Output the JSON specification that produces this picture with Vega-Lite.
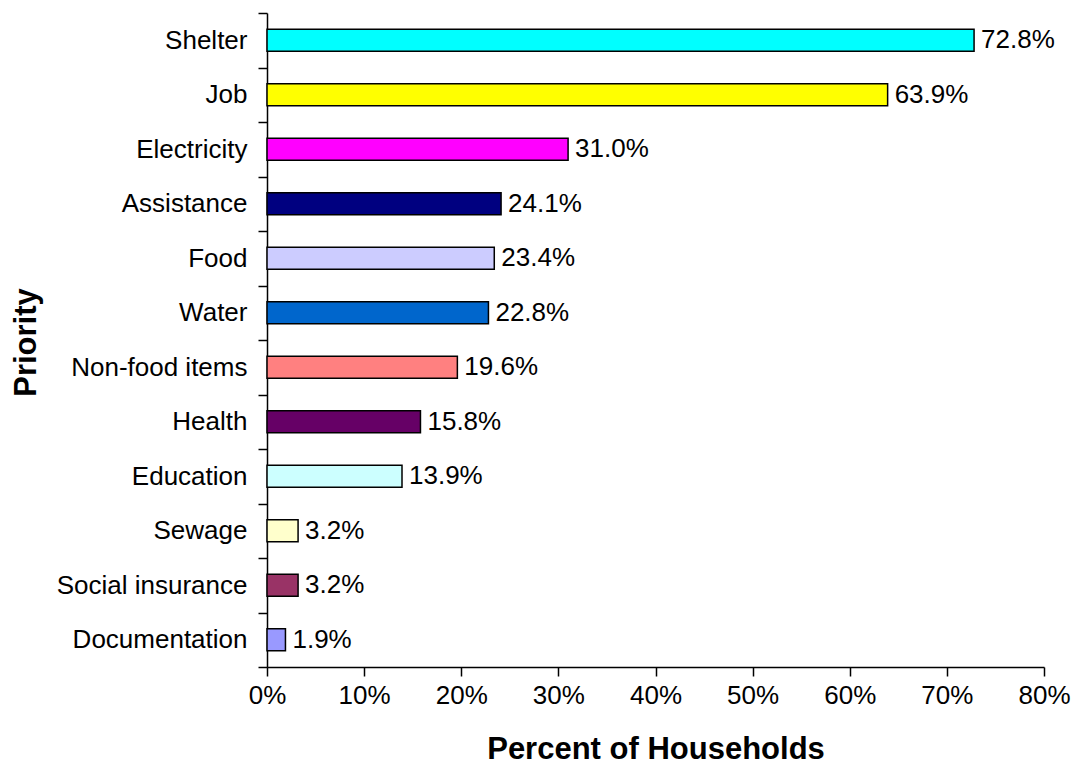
{
  "$schema": "https://vega.github.io/schema/vega-lite/v6.json",
  "autosize": {"type": "none"},
  "width": 777,
  "height": 654,
  "padding": {"left": 267, "top": 13, "right": 28, "bottom": 98},
  "background": "white",
  "config": {
    "view": {"stroke": null},
    "font": "Liberation Sans",
    "axis": {
      "domainColor": "black",
      "domainWidth": 1.5,
      "tickColor": "black",
      "tickWidth": 1.5,
      "tickSize": 9,
      "labelColor": "black",
      "titleColor": "black",
      "labelFont": "Liberation Sans",
      "titleFont": "Liberation Sans",
      "labelFontSize": 26,
      "titleFontSize": 31,
      "titleFontWeight": "bold",
      "labelLimit": 0,
      "grid": false
    }
  },
  "data": {
    "values": [
      {"priority": "Shelter", "share": 0.728, "color": "#00FFFF"},
      {"priority": "Job", "share": 0.639, "color": "#FFFF00"},
      {"priority": "Electricity", "share": 0.310, "color": "#FF00FF"},
      {"priority": "Assistance", "share": 0.241, "color": "#000080"},
      {"priority": "Food", "share": 0.234, "color": "#CCCCFF"},
      {"priority": "Water", "share": 0.228, "color": "#0066CC"},
      {"priority": "Non-food items", "share": 0.196, "color": "#FF8080"},
      {"priority": "Health", "share": 0.158, "color": "#660066"},
      {"priority": "Education", "share": 0.139, "color": "#CCFFFF"},
      {"priority": "Sewage", "share": 0.032, "color": "#FFFFCC"},
      {"priority": "Social insurance", "share": 0.032, "color": "#993366"},
      {"priority": "Documentation", "share": 0.019, "color": "#9999FF"}
    ]
  },
  "encoding": {
    "y": {
      "field": "priority",
      "type": "nominal",
      "sort": null,
      "scale": {"paddingInner": 0, "paddingOuter": 0},
      "axis": {
        "title": "Priority",
        "tickBand": "extent",
        "labelPadding": 11,
        "titleX": -232,
        "titleY": 329,
        "titleBaseline": "alphabetic",
        "titleAngle": -90
      }
    },
    "x": {
      "field": "share",
      "type": "quantitative",
      "scale": {"domain": [0, 0.8], "nice": false},
      "axis": {
        "title": "Percent of Households",
        "format": ".0%",
        "values": [0, 0.1, 0.2, 0.3, 0.4, 0.5, 0.6, 0.7, 0.8],
        "labelFlush": false,
        "labelOverlap": false,
        "labelPadding": 6,
        "titleY": 91,
        "titleBaseline": "alphabetic"
      }
    }
  },
  "layer": [
    {
      "mark": {"type": "bar", "height": {"band": 0.4}, "stroke": "black", "strokeWidth": 1.5},
      "encoding": {
        "color": {"field": "color", "type": "nominal", "scale": null, "legend": null}
      }
    },
    {
      "mark": {"type": "text", "align": "left", "baseline": "middle", "dx": 7, "fontSize": 26, "font": "Liberation Sans", "color": "black"},
      "encoding": {
        "text": {"field": "share", "type": "quantitative", "format": ".1%"}
      }
    }
  ]
}
